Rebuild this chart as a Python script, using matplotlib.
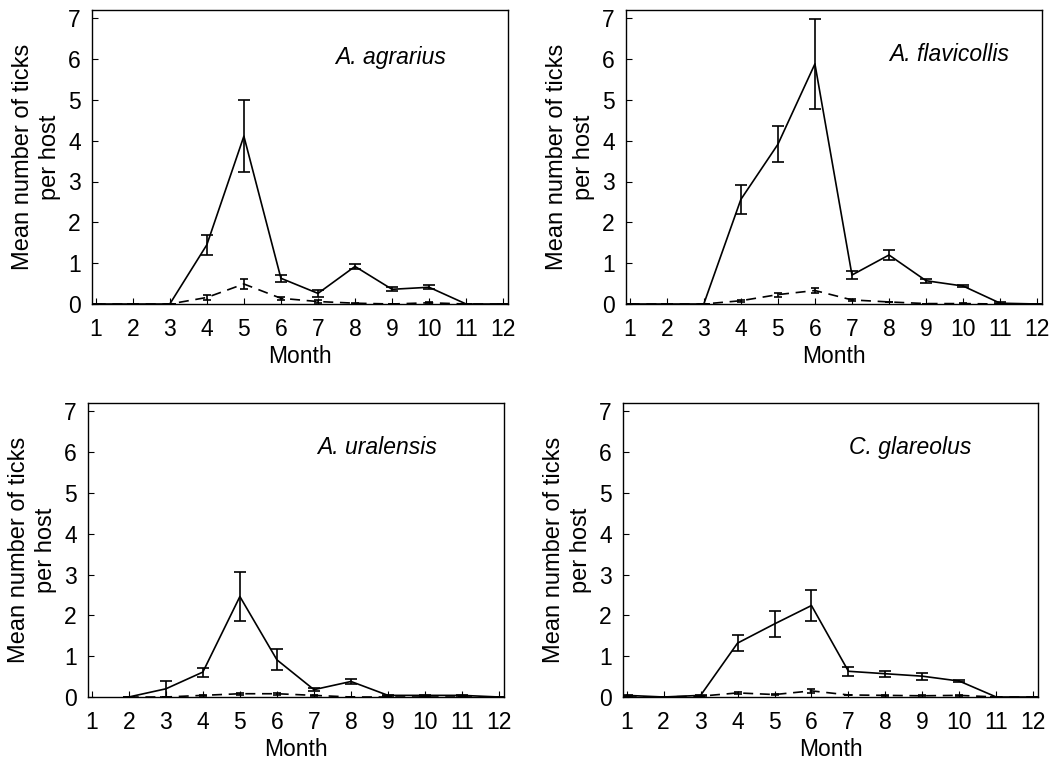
import numpy as np
from matplotlib import pyplot as plt

plt.rcParams['font.family'] = ['Liberation Sans', 'DejaVu Sans']

months = np.arange(1, 13)
nan = np.nan

# A. agrarius
agr_solid = [0, 0, 0, 1.45, 4.11, 0.63, 0.26, 0.92, 0.36, 0.41, 0, 0]
agr_solid_err = [0, 0, 0, 0.24, 0.88, 0.08, 0.08, 0.07, 0.05, 0.05, 0, 0]
agr_dash = [0, 0, 0, 0.16, 0.49, 0.14, 0.06, 0.02, 0, 0.03, 0, 0]
agr_dash_err = [0, 0, 0, 0.05, 0.13, 0.03, 0.03, 0.01, 0, 0.01, 0, 0]

# A. flavicollis
fla_solid = [0, 0, 0, 2.56, 3.91, 5.88, 0.71, 1.2, 0.57, 0.44, 0.02, 0]
fla_solid_err = [0, 0, 0, 0.35, 0.44, 1.1, 0.1, 0.12, 0.05, 0.03, 0.02, 0]
fla_dash = [0, 0, 0, 0.08, 0.23, 0.33, 0.1, 0.05, 0.01, 0.01, 0, 0]
fla_dash_err = [0, 0, 0, 0.02, 0.05, 0.05, 0.03, 0.01, 0, 0.01, 0, 0]

# A. uralensis
ura_solid = [nan, 0, 0.2, 0.61, 2.46, 0.91, 0.18, 0.38, 0.04, 0.04, 0.04, 0]
ura_solid_err = [nan, 0, 0.19, 0.11, 0.6, 0.26, 0.04, 0.05, 0.01, 0.01, 0.01, 0]
ura_dash = [nan, 0, 0, 0.04, 0.08, 0.08, 0.04, 0, 0, 0, 0, 0]
ura_dash_err = [nan, 0, 0, 0.01, 0.03, 0.03, 0.02, 0, 0, 0, 0, 0]

# C. glareolus
gla_solid = [0.04, 0, 0.04, 1.32, 1.79, 2.24, 0.63, 0.57, 0.51, 0.39, 0, 0]
gla_solid_err = [0.02, 0, 0.02, 0.2, 0.32, 0.38, 0.11, 0.07, 0.09, 0.03, 0, 0]
gla_dash = [0, 0, 0.02, 0.1, 0.06, 0.15, 0.05, 0.04, 0.03, 0.04, 0, 0]
gla_dash_err = [0, 0, 0.01, 0.02, 0.01, 0.05, 0.01, 0.01, 0.01, 0.01, 0, 0]

panels = [
    ("A. agrarius", agr_solid, agr_solid_err, agr_dash, agr_dash_err),
    ("A. flavicollis", fla_solid, fla_solid_err, fla_dash, fla_dash_err),
    ("A. uralensis", ura_solid, ura_solid_err, ura_dash, ura_dash_err),
    ("C. glareolus", gla_solid, gla_solid_err, gla_dash, gla_dash_err),
]

W, H = 1052, 760
# axes boxes in pixels: left, right, top, bottom
boxes = [(92, 508, 10, 304), (626, 1042, 10, 304),
         (88, 504, 403, 697), (623, 1038, 403, 697)]
label_pos = [(0.85, 0.84), (0.92, 0.85), (0.84, 0.85), (0.84, 0.85)]

fig = plt.figure(figsize=(W / 100, H / 100), dpi=100)

for (name, s, se, d, de), (l, r, t, b), (lx, ly) in zip(panels, boxes, label_pos):
    ax = fig.add_axes([l / W, (H - b) / H, (r - l) / W, (b - t) / H])
    ax.errorbar(months, s, yerr=se, color='black', lw=1.2, capsize=4,
                elinewidth=1.2, capthick=1.2)
    ax.errorbar(months, d, yerr=de, color='black', lw=1.2, ls=(0, (6, 4)),
                capsize=3, elinewidth=1.2, capthick=1.2)
    ax.set_xlim(0.9, 12.13)
    ax.set_ylim(0, 7.2)
    ax.set_xticks(months)
    ax.set_yticks(range(8))
    ax.tick_params(direction='in', length=4, labelsize=16.5, pad=8)
    ax.tick_params(axis='x', pad=10)
    for sp in ax.spines.values():
        sp.set_linewidth(1.0)
    ax.text(lx, ly, name, transform=ax.transAxes, ha='right', va='center',
            fontsize=16.5, style='italic')
    ax.set_xlabel("Month", fontsize=16.5)
    ax.xaxis.set_label_coords(0.5, -0.14)
    ax.set_ylabel("Mean number of ticks\nper host", fontsize=17, linespacing=1.3)
    ax.yaxis.set_label_coords(-0.075, 0.5)

fig.savefig("out.png", dpi=100)
